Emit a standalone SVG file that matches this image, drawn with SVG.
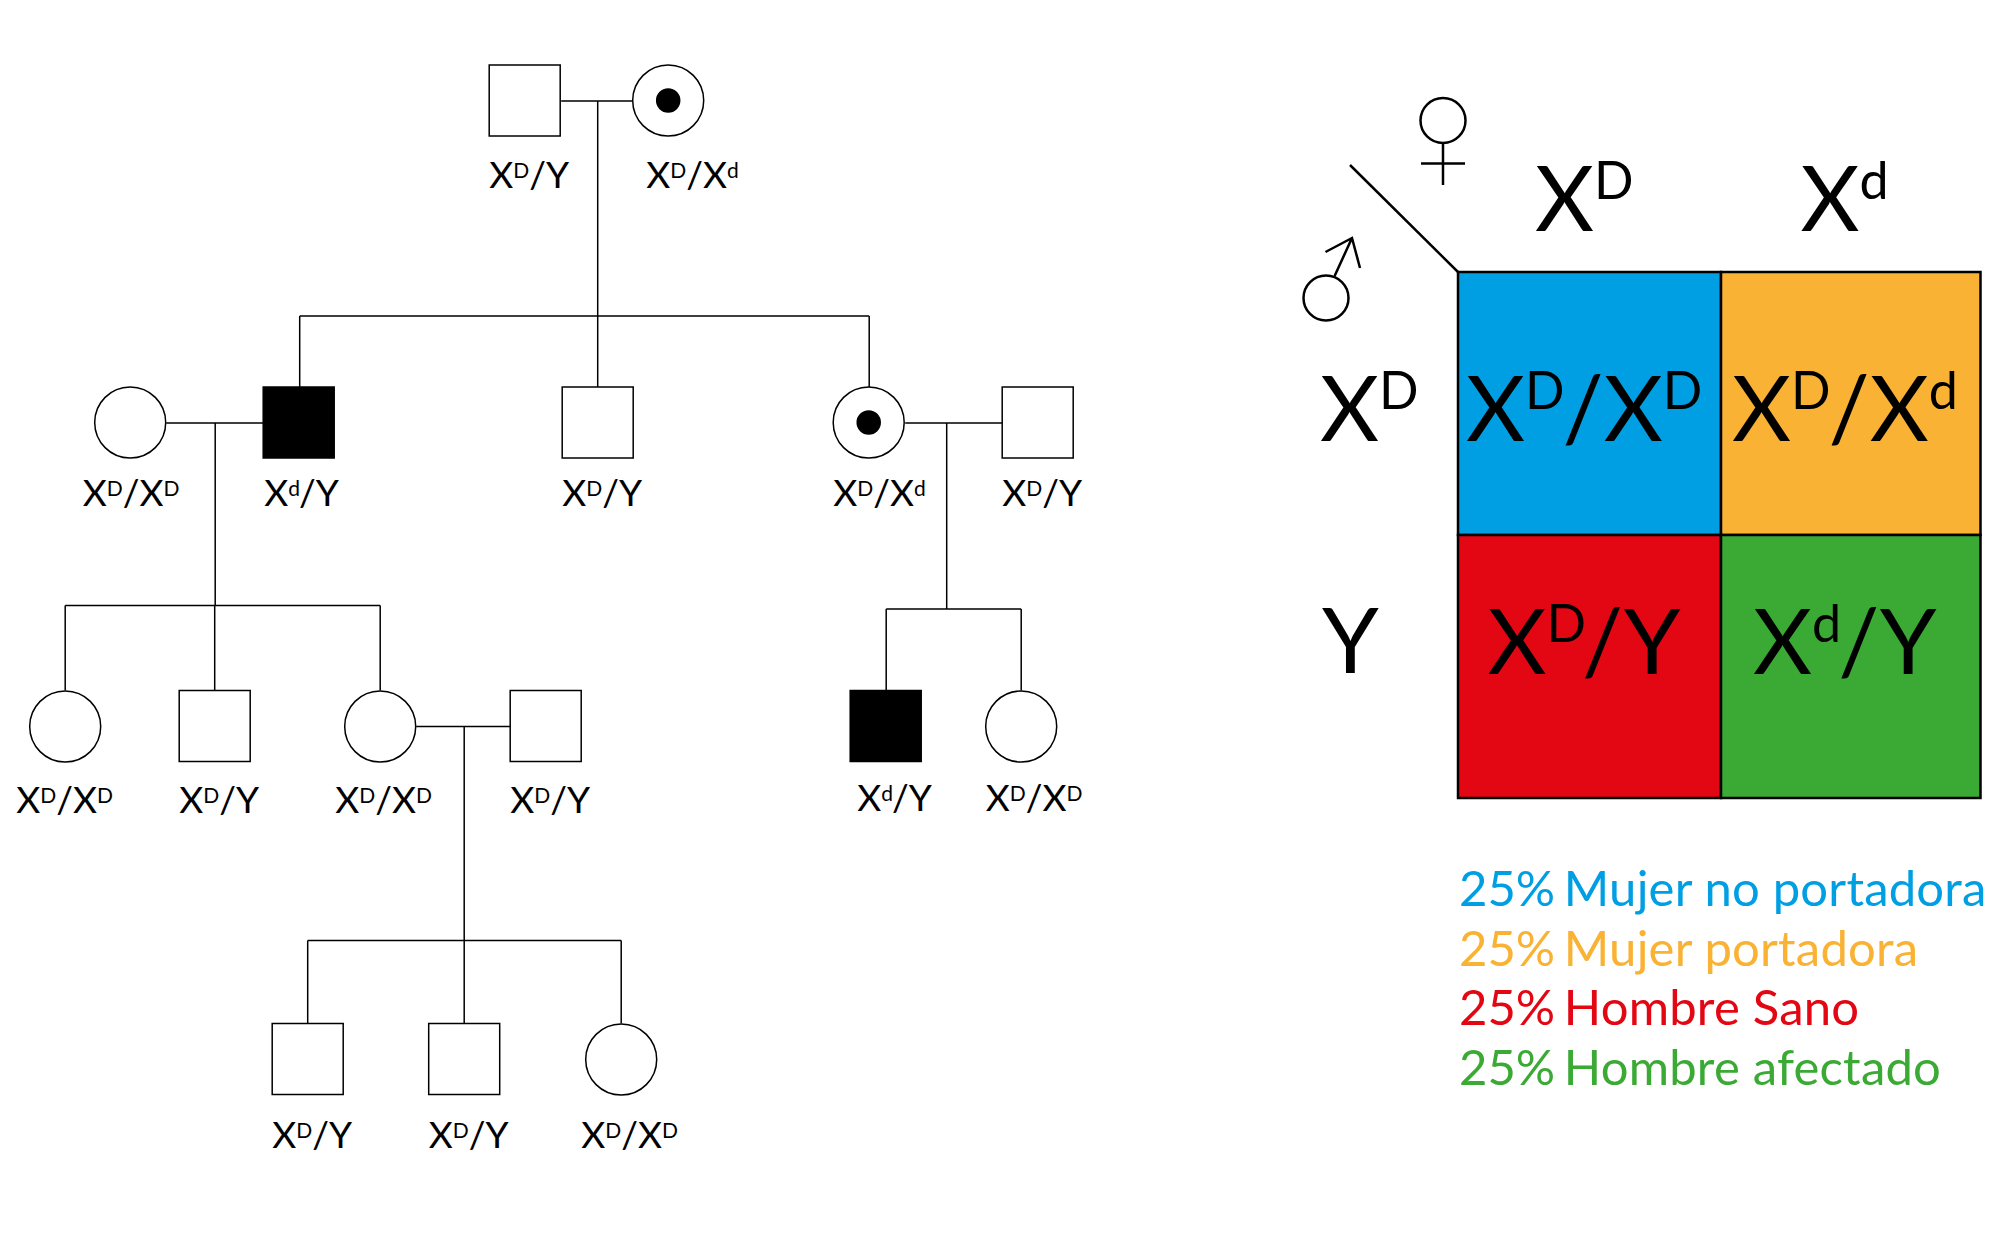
<svg xmlns="http://www.w3.org/2000/svg" width="2000" height="1238" viewBox="0 0 2000 1238">
<style>
text{font-family:Lato,"Liberation Sans",sans-serif;fill:#000}
.n{fill:#fff;stroke:#000;stroke-width:1.5}
.a{fill:#000;stroke:#000;stroke-width:1.5}
.c{fill:none;stroke:#000;stroke-width:1.5}
.g{fill:none;stroke:#000;stroke-width:2.5}
.l{font-size:37px}
.b{font-size:91px}
.s{font-size:21px}
.t{font-size:52px}
.p{font-size:49px}
.w{letter-spacing:.2px}
.cell{stroke:#000;stroke-width:2.5}
</style>
<rect width="2000" height="1238" fill="#fff"/>
<g transform="translate(0.2 1)">
<g id="connectors">
<path class="c" d="M561 100H632M597.500 100V315M299.500 315H869M299.500 315V386M597.500 315V386M869 315V386"/>
<path class="c" d="M166 422H263M215 422V604.500M65 604.500H380M65 604.500V689.500M214.500 604.500V689.500M380 604.500V689.500"/>
<path class="c" d="M905 422H1002M946.500 422V608M886 608H1021M886 608V689.500M1021 608V689.500"/>
<path class="c" d="M416 725.500H510M464 725.500V939.500M307.500 939.500H621M307.500 939.500V1022.500M464 939.500V1022.500M621 939.500V1022.500"/>
</g>
<g id="n1"><rect class="n" x="489" y="64" width="71" height="71"/><text class="l" x="489" y="187">X<tspan class="s" dy="-10">D</tspan><tspan dy="10">/Y</tspan></text></g>
<g id="n2"><circle class="n" cx="668" cy="99.500" r="35.500"/><circle class="a" cx="668" cy="99.500" r="11.500"/><text class="l" x="646" y="187">X<tspan class="s" dy="-10">D</tspan><tspan dy="10">/X</tspan><tspan class="s" dy="-10">d</tspan></text></g>
<g id="n3"><circle class="n" cx="130" cy="421.500" r="35.500"/><text class="l" x="82.500" y="505">X<tspan class="s" dy="-10">D</tspan><tspan dy="10">/X</tspan><tspan class="s" dy="-10">D</tspan></text></g>
<g id="n4"><rect class="a" x="263" y="386" width="71" height="71"/><text class="l" x="264" y="505">X<tspan class="s" dy="-10">d</tspan><tspan dy="10" dx="-1">/Y</tspan></text></g>
<g id="n5"><rect class="n" x="562" y="386" width="71" height="71"/><text class="l" x="562" y="505">X<tspan class="s" dy="-10">D</tspan><tspan dy="10">/Y</tspan></text></g>
<g id="n6"><circle class="n" cx="868.500" cy="421.500" r="35.500"/><circle class="a" cx="868.500" cy="421.500" r="11.500"/><text class="l" x="833" y="505">X<tspan class="s" dy="-10">D</tspan><tspan dy="10">/X</tspan><tspan class="s" dy="-10">d</tspan></text></g>
<g id="n7"><rect class="n" x="1002" y="386" width="71" height="71"/><text class="l" x="1002" y="505">X<tspan class="s" dy="-10">D</tspan><tspan dy="10">/Y</tspan></text></g>
<g id="n8"><circle class="n" cx="65" cy="725.500" r="35.500"/><text class="l" x="16" y="811.500">X<tspan class="s" dy="-10">D</tspan><tspan dy="10">/X</tspan><tspan class="s" dy="-10">D</tspan></text></g>
<g id="n9"><rect class="n" x="179" y="689.500" width="71" height="71"/><text class="l" x="179" y="811.500">X<tspan class="s" dy="-10">D</tspan><tspan dy="10">/Y</tspan></text></g>
<g id="n10"><circle class="n" cx="380" cy="725.500" r="35.500"/><text class="l" x="335" y="811.500">X<tspan class="s" dy="-10">D</tspan><tspan dy="10">/X</tspan><tspan class="s" dy="-10">D</tspan></text></g>
<g id="n11"><rect class="n" x="510" y="689.500" width="71" height="71"/><text class="l" x="510" y="811.500">X<tspan class="s" dy="-10">D</tspan><tspan dy="10">/Y</tspan></text></g>
<g id="n12"><rect class="a" x="850" y="689.500" width="71" height="71"/><text class="l" x="857" y="810">X<tspan class="s" dy="-10">d</tspan><tspan dy="10" dx="-1">/Y</tspan></text></g>
<g id="n13"><circle class="n" cx="1021" cy="725.500" r="35.500"/><text class="l" x="985.500" y="810">X<tspan class="s" dy="-10">D</tspan><tspan dy="10">/X</tspan><tspan class="s" dy="-10">D</tspan></text></g>
<g id="n14"><rect class="n" x="272" y="1022.500" width="71" height="71"/><text class="l" x="272" y="1147">X<tspan class="s" dy="-10">D</tspan><tspan dy="10">/Y</tspan></text></g>
<g id="n15"><rect class="n" x="428.500" y="1022.500" width="71" height="71"/><text class="l" x="428.500" y="1147">X<tspan class="s" dy="-10">D</tspan><tspan dy="10">/Y</tspan></text></g>
<g id="n16"><circle class="n" cx="621" cy="1058.500" r="35.500"/><text class="l" x="581" y="1147">X<tspan class="s" dy="-10">D</tspan><tspan dy="10">/X</tspan><tspan class="s" dy="-10">D</tspan></text></g>
</g>
<g id="punnett" transform="translate(0 1)">
<rect class="cell" x="1458" y="271" width="263" height="263" fill="#009fe3"/>
<rect class="cell" x="1721" y="271" width="259.500" height="263" fill="#f9b233"/>
<rect class="cell" x="1458" y="534" width="263" height="263" fill="#e30613"/>
<rect class="cell" x="1721" y="534" width="259.500" height="263" fill="#3aaa35"/>
<path class="g" d="M1350 164L1458 271"/>
<ellipse class="g" cx="1443" cy="119.500" rx="22.500" ry="22.500"/><path class="g" d="M1443 142V184M1421 162.500H1465"/>
<ellipse class="g" cx="1326" cy="297" rx="22.500" ry="22.500"/><path class="g" d="M1334.600 275L1352 237M1325.500 251L1352 237L1360 267"/>
<text class="b" x="1535" y="230">X<tspan class="t" dy="-32">D</tspan></text>
<text class="b" x="1800.500" y="230">X<tspan class="t" dy="-32">d</tspan></text>
<text class="b" x="1320" y="440">X<tspan class="t" dy="-32">D</tspan></text>
<text class="b" x="1322" y="672">Y</text>
<text class="b" x="1466" y="440">X<tspan class="t" dy="-32">D</tspan><tspan dy="32" dx="-2">/X</tspan><tspan class="t" dy="-32">D</tspan></text>
<text class="b" x="1732" y="440">X<tspan class="t" dy="-32">D</tspan><tspan dy="32" dx="-2">/X</tspan><tspan class="t" dy="-32">d</tspan></text>
<text class="b" x="1487.500" y="673">X<tspan class="t" dy="-32">D</tspan><tspan dy="32" dx="-4">/Y</tspan></text>
<text class="b" x="1753" y="673">X<tspan class="t" dy="-32">d</tspan><tspan dy="32" dx="-3">/Y</tspan></text>
</g>
<g id="legend">
<text class="p" x="1459" y="906" style="fill:#009fe3">25%<tspan class="w" dx="-4"> Mujer no portadora</tspan></text>
<text class="p" x="1459" y="966" style="fill:#f9b233">25%<tspan class="w" dx="-4"> Mujer portadora</tspan></text>
<text class="p" x="1459" y="1025" style="fill:#e30613">25%<tspan class="w" dx="-4"> Hombre Sano</tspan></text>
<text class="p" x="1459" y="1085" style="fill:#3aaa35">25%<tspan class="w" dx="-4"> Hombre afectado</tspan></text>
</g>
</svg>
